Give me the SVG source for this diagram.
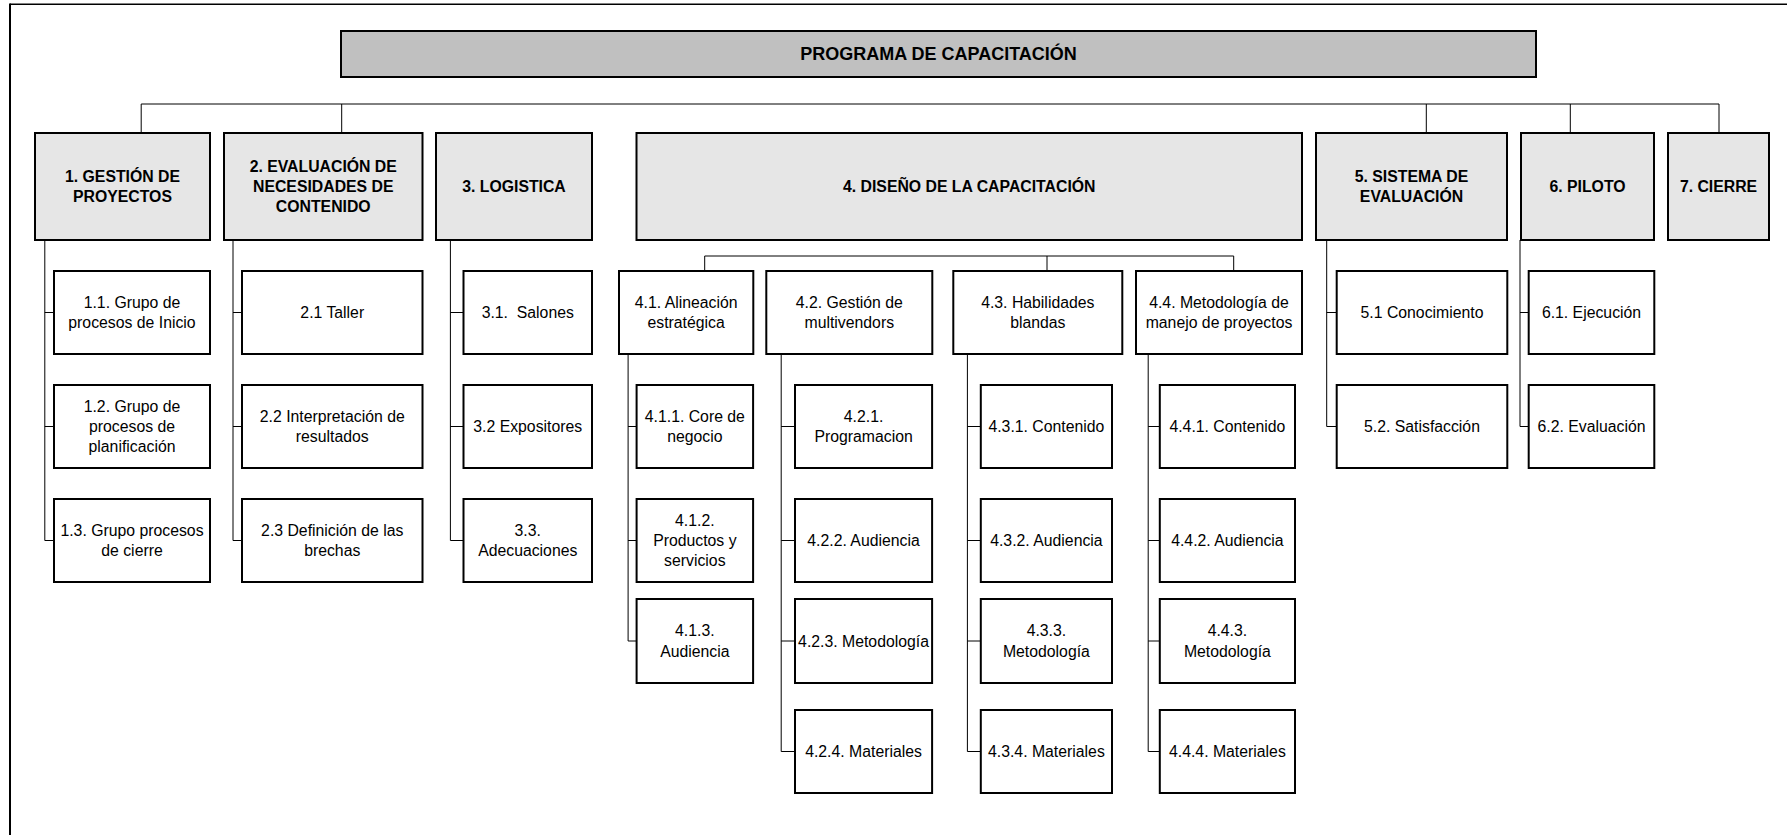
<svg xmlns="http://www.w3.org/2000/svg" width="1787" height="835" viewBox="0 0 1787 835">
<style>
text{font-family:"Liberation Sans",Arial,sans-serif;font-size:15.8px;fill:#000;text-anchor:middle}
.b{font-weight:bold}
.t{font-size:18px}
.top{fill:#c0c0c0;stroke:#000;stroke-width:2}
.l1{fill:#e6e6e6;stroke:#000;stroke-width:2}
.c{fill:#fff;stroke:#000;stroke-width:2}
.con{fill:none;stroke:#000;stroke-width:1}
.frame{fill:none;stroke:#000}
</style>
<rect x="0" y="0" width="1787" height="835" fill="#fff"/>
<g id="frame">
<line class="frame" x1="10" y1="4.3" x2="1787" y2="4.3" stroke-width="1.4"/>
<line class="frame" x1="10" y1="3.6" x2="10" y2="835" stroke-width="2"/>
</g>
<g id="connectors">
<path class="con" d="M141.2 133V104H1719V133M341.7 104V133M1426.3 104V133M1570.3 104V133"/>
<path class="con" d="M44.8 240V540.5M44.8 312.5H54M44.8 426.5H54M44.8 540.5H54"/>
<path class="con" d="M233 240V540.5M233 312.5H242M233 426.5H242M233 540.5H242"/>
<path class="con" d="M450.4 240V540.5M450.4 312.5H463.5M450.4 426.5H463.5M450.4 540.5H463.5"/>
<path class="con" d="M704.7 271V256H1233.7V271M1047 256V271"/>
<path class="con" d="M628.1 354V641M628.1 426.5H636.6M628.1 540.5H636.6M628.1 641H636.6"/>
<path class="con" d="M781.2 354V751.5M781.2 426.5H795M781.2 540.5H795M781.2 641H795M781.2 751.5H795"/>
<path class="con" d="M967.4 354V751.5M967.4 426.5H980.8M967.4 540.5H980.8M967.4 641H980.8M967.4 751.5H980.8"/>
<path class="con" d="M1148.2 354V751.5M1148.2 426.5H1159.8M1148.2 540.5H1159.8M1148.2 641H1159.8M1148.2 751.5H1159.8"/>
<path class="con" d="M1326.7 240V426.5M1326.7 312.5H1336.7M1326.7 426.5H1336.7"/>
<path class="con" d="M1520 240V426.5M1520 312.5H1528.7M1520 426.5H1528.7"/>
</g>
<g id="n0"><rect class="top" x="341" y="31" width="1195" height="46"/><text class="b t" x="938.5" y="60.4">PROGRAMA DE CAPACITACIÓN</text></g>
<g id="n1"><rect class="l1" x="35" y="133" width="175" height="107"/><text class="b" x="122.5" y="181.95">1. GESTIÓN DE</text><text class="b" x="122.5" y="202.25">PROYECTOS</text></g>
<g id="n2"><rect class="l1" x="224" y="133" width="198.5" height="107"/><text class="b" x="323.25" y="171.8">2. EVALUACIÓN DE</text><text class="b" x="323.25" y="192.1">NECESIDADES DE</text><text class="b" x="323.25" y="212.4">CONTENIDO</text></g>
<g id="n3"><rect class="l1" x="436" y="133" width="156" height="107"/><text class="b" x="514" y="192.1">3. LOGISTICA</text></g>
<g id="n4"><rect class="l1" x="636.5" y="133" width="665.5" height="107"/><text class="b" x="969.25" y="192.1">4. DISEÑO DE LA CAPACITACIÓN</text></g>
<g id="n5"><rect class="l1" x="1316" y="133" width="191" height="107"/><text class="b" x="1411.5" y="181.95">5. SISTEMA DE</text><text class="b" x="1411.5" y="202.25">EVALUACIÓN</text></g>
<g id="n6"><rect class="l1" x="1521" y="133" width="133" height="107"/><text class="b" x="1587.5" y="192.1">6. PILOTO</text></g>
<g id="n7"><rect class="l1" x="1668" y="133" width="101" height="107"/><text class="b" x="1718.5" y="192.1">7. CIERRE</text></g>

<g id="n1_1"><rect class="c" x="54" y="271" width="156" height="83"/><text x="132" y="307.95">1.1. Grupo de</text><text x="132" y="328.25">procesos de Inicio</text></g>
<g id="n1_2"><rect class="c" x="54" y="385" width="156" height="83"/><text x="132" y="411.8">1.2. Grupo de</text><text x="132" y="432.1">procesos de</text><text x="132" y="452.4">planificación</text></g>
<g id="n1_3"><rect class="c" x="54" y="499" width="156" height="83"/><text x="132" y="535.95">1.3. Grupo procesos</text><text x="132" y="556.25">de cierre</text></g>

<g id="n2_1"><rect class="c" x="242" y="271" width="180.5" height="83"/><text x="332.25" y="318.1">2.1 Taller</text></g>
<g id="n2_2"><rect class="c" x="242" y="385" width="180.5" height="83"/><text x="332.25" y="421.95">2.2 Interpretación de</text><text x="332.25" y="442.25">resultados</text></g>
<g id="n2_3"><rect class="c" x="242" y="499" width="180.5" height="83"/><text x="332.25" y="535.95">2.3 Definición de las</text><text x="332.25" y="556.25">brechas</text></g>

<g id="n3_1"><rect class="c" x="463.5" y="271" width="128.5" height="83"/><text x="527.75" y="318.1" xml:space="preserve">3.1.  Salones</text></g>
<g id="n3_2"><rect class="c" x="463.5" y="385" width="128.5" height="83"/><text x="527.75" y="432.1">3.2 Expositores</text></g>
<g id="n3_3"><rect class="c" x="463.5" y="499" width="128.5" height="83"/><text x="527.75" y="535.95">3.3.</text><text x="527.75" y="556.25">Adecuaciones</text></g>

<g id="n4_1"><rect class="c" x="619" y="271" width="134.3" height="83"/><text x="686.15" y="307.95">4.1. Alineación</text><text x="686.15" y="328.25">estratégica</text></g>
<g id="n4_2"><rect class="c" x="766.3" y="271" width="166" height="83"/><text x="849.3" y="307.95">4.2. Gestión de</text><text x="849.3" y="328.25">multivendors</text></g>
<g id="n4_3"><rect class="c" x="953.3" y="271" width="169" height="83"/><text x="1037.8" y="307.95">4.3. Habilidades</text><text x="1037.8" y="328.25">blandas</text></g>
<g id="n4_4"><rect class="c" x="1136" y="271" width="166" height="83"/><text x="1219" y="307.95">4.4. Metodología de</text><text x="1219" y="328.25">manejo de proyectos</text></g>

<g id="n4_1_1"><rect class="c" x="636.6" y="385" width="116.5" height="83"/><text x="694.85" y="421.95">4.1.1. Core de</text><text x="694.85" y="442.25">negocio</text></g>
<g id="n4_1_2"><rect class="c" x="636.6" y="499" width="116.5" height="83"/><text x="694.85" y="525.8">4.1.2.</text><text x="694.85" y="546.1">Productos y</text><text x="694.85" y="566.4">servicios</text></g>
<g id="n4_1_3"><rect class="c" x="636.6" y="599" width="116.5" height="84"/><text x="694.85" y="636.45">4.1.3.</text><text x="694.85" y="656.75">Audiencia</text></g>

<g id="n4_2_1"><rect class="c" x="795" y="385" width="137.1" height="83"/><text x="863.55" y="421.95">4.2.1.</text><text x="863.55" y="442.25">Programacion</text></g>
<g id="n4_2_2"><rect class="c" x="795" y="499" width="137.1" height="83"/><text x="863.55" y="546.1">4.2.2. Audiencia</text></g>
<g id="n4_2_3"><rect class="c" x="795" y="599" width="137.1" height="84"/><text x="863.55" y="646.6">4.2.3. Metodología</text></g>
<g id="n4_2_4"><rect class="c" x="795" y="710" width="137.1" height="83"/><text x="863.55" y="757.1">4.2.4. Materiales</text></g>

<g id="n4_3_1"><rect class="c" x="980.8" y="385" width="131.2" height="83"/><text x="1046.4" y="432.1">4.3.1. Contenido</text></g>
<g id="n4_3_2"><rect class="c" x="980.8" y="499" width="131.2" height="83"/><text x="1046.4" y="546.1">4.3.2. Audiencia</text></g>
<g id="n4_3_3"><rect class="c" x="980.8" y="599" width="131.2" height="84"/><text x="1046.4" y="636.45">4.3.3.</text><text x="1046.4" y="656.75">Metodología</text></g>
<g id="n4_3_4"><rect class="c" x="980.8" y="710" width="131.2" height="83"/><text x="1046.4" y="757.1">4.3.4. Materiales</text></g>

<g id="n4_4_1"><rect class="c" x="1159.8" y="385" width="135.2" height="83"/><text x="1227.4" y="432.1">4.4.1. Contenido</text></g>
<g id="n4_4_2"><rect class="c" x="1159.8" y="499" width="135.2" height="83"/><text x="1227.4" y="546.1">4.4.2. Audiencia</text></g>
<g id="n4_4_3"><rect class="c" x="1159.8" y="599" width="135.2" height="84"/><text x="1227.4" y="636.45">4.4.3.</text><text x="1227.4" y="656.75">Metodología</text></g>
<g id="n4_4_4"><rect class="c" x="1159.8" y="710" width="135.2" height="83"/><text x="1227.4" y="757.1">4.4.4. Materiales</text></g>

<g id="n5_1"><rect class="c" x="1336.7" y="271" width="170.6" height="83"/><text x="1422" y="318.1">5.1 Conocimiento</text></g>
<g id="n5_2"><rect class="c" x="1336.7" y="385" width="170.6" height="83"/><text x="1422" y="432.1">5.2. Satisfacción</text></g>
<g id="n6_1"><rect class="c" x="1528.7" y="271" width="125.6" height="83"/><text x="1591.5" y="318.1">6.1. Ejecución</text></g>
<g id="n6_2"><rect class="c" x="1528.7" y="385" width="125.6" height="83"/><text x="1591.5" y="432.1">6.2. Evaluación</text></g>
</svg>
